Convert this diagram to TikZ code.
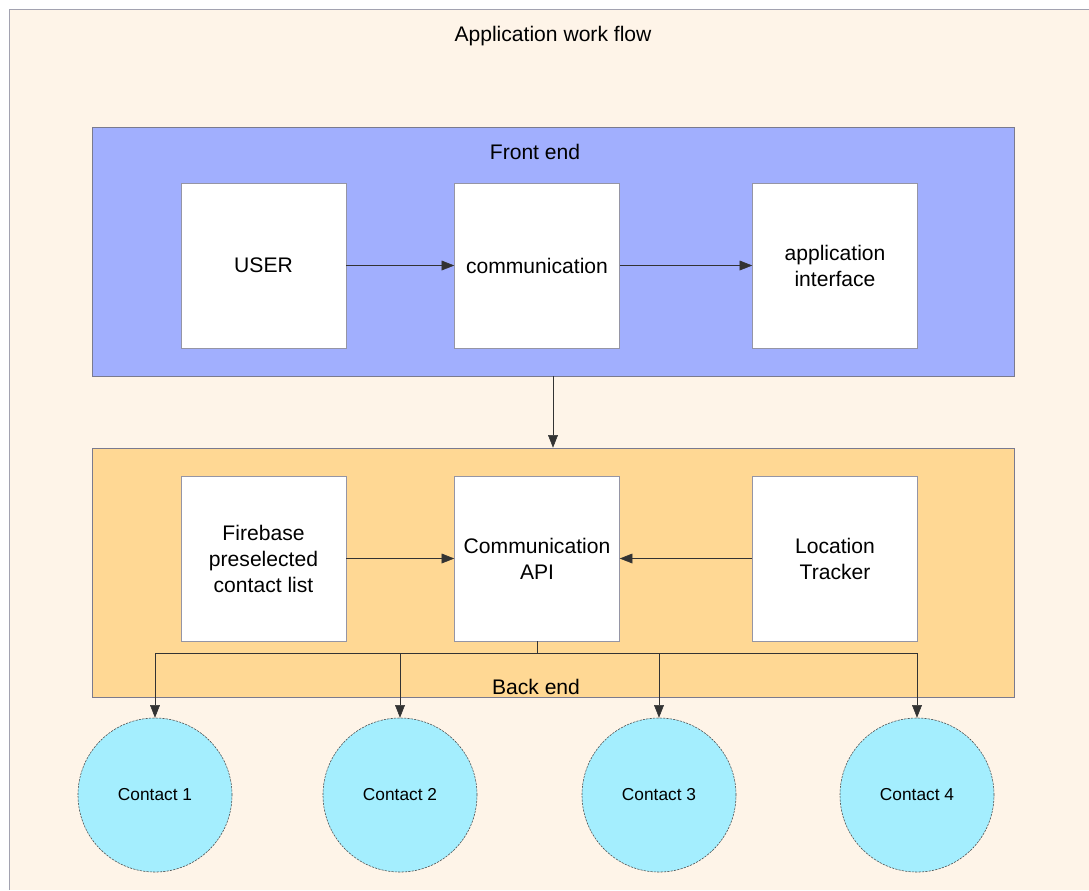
\documentclass[tikz,border=0pt]{standalone}
\usepackage{fontspec}
\setmainfont{Liberation Sans}
\usetikzlibrary{arrows.meta}
\definecolor{paper}{HTML}{FEF4E8}
\definecolor{frontfill}{HTML}{A1AFFE}
\definecolor{backfill}{HTML}{FFD894}
\definecolor{contactfill}{HTML}{A4EEFE}
\definecolor{edgegray}{HTML}{7A7A8E}
\begin{document}
\begin{tikzpicture}
  [x=0.025cm,y=-0.025cm,font=\fontsize{15}{18.5}\selectfont,
   panel/.style={draw=edgegray,minimum width=23.05cm,minimum height=6.225cm,inner sep=0pt},
   block/.style={draw=edgegray!80,fill=white,minimum width=4.125cm,minimum height=4.125cm,align=center,inner sep=2pt},
   contact/.style={circle,draw=black!70,dash pattern=on 1.6pt off 0.8pt,fill=contactfill,minimum size=3.85cm,inner sep=0pt,font=\fontsize{12.3}{15}\selectfont},
   arr/.style={draw=black!80,-{Triangle[length=9pt,width=7pt]}} ]
  \useasboundingbox (0,0) rectangle (1089,890);
  \fill[white] (0,0) rectangle (1089,890);
  \fill[paper] (9,9) rectangle (1089,890);
  \draw[edgegray!70] (9,890) -- (9,9) -- (1089,9);
  \node (title) at (553,36) {Application work flow};

  \node[panel,fill=frontfill] (fe) at (553,251.5) {};
  \node (felabel) at (535,152) {Front end};
  \node[panel,fill=backfill] (be) at (553,572.5) {};
  \node (belabel) at (536,687) {Back end};

  \node[block] (user) at (263.5,265.5) {USER};
  \node[block] (comm) at (537,265.5) {communication};
  \node[block] (ui) at (835,265.5) {application\\interface};
  \node[block] (fb) at (263.5,558.5) {Firebase\\preselected\\contact list};
  \node[block] (api) at (537,558.5) {Communication\\API};
  \node[block] (loc) at (835,558.5) {Location\\Tracker};

  \node[contact] (c1) at (155,795) {Contact 1};
  \node[contact] (c2) at (400,795) {Contact 2};
  \node[contact] (c3) at (659,795) {Contact 3};
  \node[contact] (c4) at (917,795) {Contact 4};

  \foreach \from/\to in {user/comm,comm/ui,fb/api,loc/api}
    \draw[arr] (\from) -- (\to);
  \draw[arr] (fe.south) -- (be.north);

  \draw[black!80] (api.south) -- ++(0,12) coordinate (bus);
  \foreach \to in {c1,c2,c3,c4}
    \draw[arr] (bus) -| (\to.north);

\end{tikzpicture}
\end{document}
